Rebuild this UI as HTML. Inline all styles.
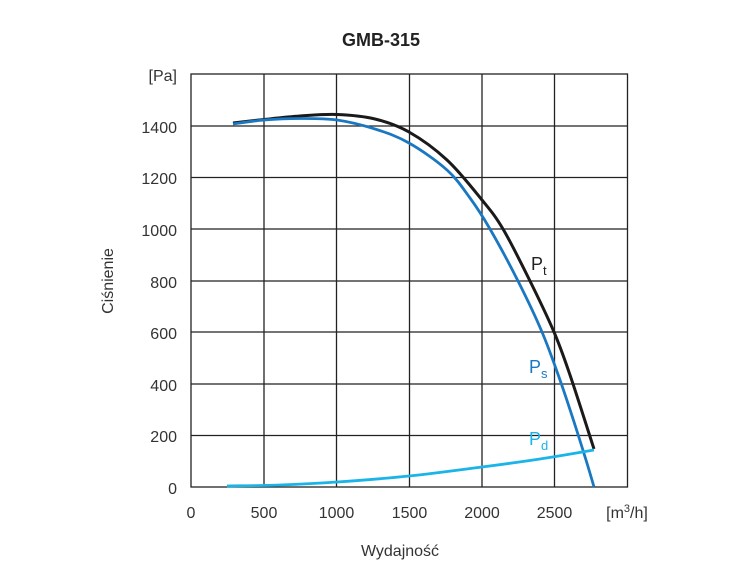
<!DOCTYPE html>
<html><head><meta charset="utf-8"><style>
html,body{margin:0;padding:0;background:#fff;}
svg{display:block;font-family:"Liberation Sans",sans-serif;}
</style></head><body>
<svg width="751" height="576" viewBox="0 0 751 576" xmlns="http://www.w3.org/2000/svg">
<text x="381" y="46" text-anchor="middle" font-size="18" font-weight="bold" fill="#222">GMB-315</text>
<g stroke="#222" stroke-width="1.3" fill="none">
<rect x="191" y="74" width="436.5" height="413"/>
<line x1="264" y1="74" x2="264" y2="487"/><line x1="336.5" y1="74" x2="336.5" y2="487"/>
<line x1="409.5" y1="74" x2="409.5" y2="487"/><line x1="482" y1="74" x2="482" y2="487"/>
<line x1="554.5" y1="74" x2="554.5" y2="487"/>
<line x1="191" y1="126" x2="627.5" y2="126"/><line x1="191" y1="177.5" x2="627.5" y2="177.5"/>
<line x1="191" y1="229" x2="627.5" y2="229"/><line x1="191" y1="281" x2="627.5" y2="281"/>
<line x1="191" y1="332" x2="627.5" y2="332"/><line x1="191" y1="384" x2="627.5" y2="384"/>
<line x1="191" y1="435.5" x2="627.5" y2="435.5"/>
</g>
<g font-size="16" fill="#333" text-anchor="end">
<text x="177" y="81">[Pa]</text>
<text x="177" y="133">1400</text><text x="177" y="184">1200</text><text x="177" y="236">1000</text>
<text x="177" y="288">800</text><text x="177" y="339">600</text><text x="177" y="391">400</text>
<text x="177" y="442">200</text><text x="177" y="494">0</text>
</g>
<g font-size="16" fill="#333" text-anchor="middle">
<text x="191" y="518">0</text><text x="264" y="518">500</text><text x="336.5" y="518">1000</text>
<text x="409.5" y="518">1500</text><text x="482" y="518">2000</text><text x="554.5" y="518">2500</text>
<text x="627" y="518">[m<tspan font-size="11" dy="-6">3</tspan><tspan dy="6">/h]</tspan></text>
<text x="400" y="556">Wydajność</text>
</g>
<text transform="translate(113,281) rotate(-90)" font-size="16" fill="#333" text-anchor="middle">Ciśnienie</text>
<path id="pt" d="M233,123 L264,119.5 L337,114 L409,132 L447,163 L482,197 L513,233 L554,333 L594,449" stroke="#1a1a1a" stroke-width="3" fill="none"/>
<path id="ps" d="M233,124 L264,120 L337,120 L409,143 L447,170 L482,215 L513,273 L554,353 L580,427 L594,487" stroke="#1a78c2" stroke-width="2.8" fill="none"/>
<path id="pd" d="M227,486 L337,482 L409,476 L482,467 L594,450" stroke="#1ab4e8" stroke-width="2.8" fill="none"/>
<text x="531" y="270" font-size="18" fill="#222">P<tspan font-size="13" dy="5">t</tspan></text>
<text x="529" y="373" font-size="18" fill="#1a78c2">P<tspan font-size="13" dy="5">s</tspan></text>
<text x="529" y="445" font-size="18" fill="#1ab4e8">P<tspan font-size="13" dy="5">d</tspan></text>
</svg>
<script>
function cr(p){var d="M"+p[0][0]+","+p[0][1];for(var i=0;i<p.length-1;i++){var a=p[i-1]||p[i],b=p[i],c=p[i+1],e=p[i+2]||c;
d+=" C"+(b[0]+(c[0]-a[0])/6).toFixed(1)+","+(b[1]+(c[1]-a[1])/6).toFixed(1)+" "+(c[0]-(e[0]-b[0])/6).toFixed(1)+","+(c[1]-(e[1]-b[1])/6).toFixed(1)+" "+c[0]+","+c[1];}return d;}
document.getElementById("pt").setAttribute("d",cr([[233,123],[264,119.5],[300,116],[337,114.5],[375,119],[409,132],[447,160],[482,200],[503,229],[530,281],[554,332],[570,375],[594,449]]));
document.getElementById("ps").setAttribute("d",cr([[233,124],[264,120],[300,118.5],[337,120],[375,129],[409,143],[447,170],[470,198],[490,229],[518,281],[542,332],[560,380],[575,425],[586,460],[594,487]]));
document.getElementById("pd").setAttribute("d",cr([[227,486],[280,485],[337,482],[409,476],[482,467],[540,459],[594,450]]));
</script>
</body></html>
